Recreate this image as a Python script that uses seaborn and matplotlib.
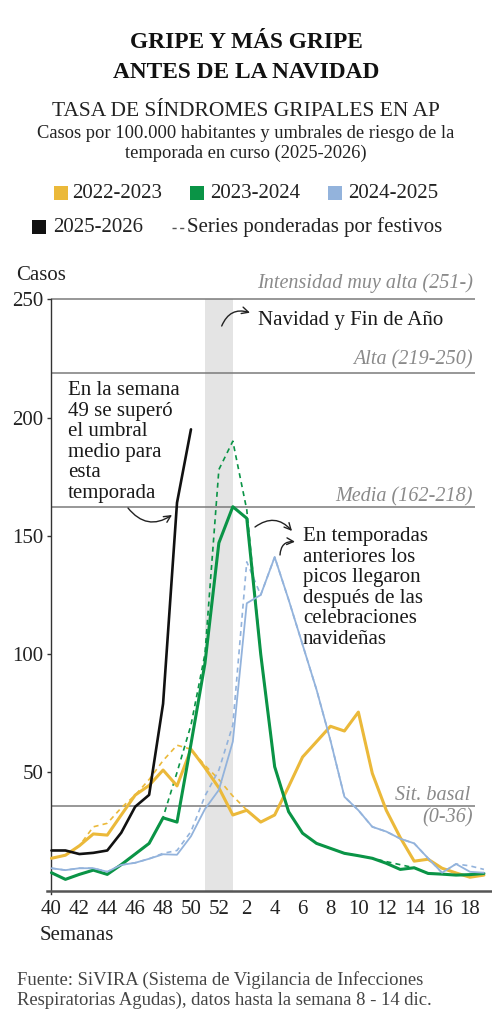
import pandas as pd
import seaborn as sns
import matplotlib.pyplot as plt
from matplotlib.patches import Rectangle
from matplotlib.lines import Line2D

# --- data (tasa por 100.000 hab., semanas epidemiologicas) ---
weeks = [40, 41, 42, 43, 44, 45, 46, 47, 48, 49, 50, 51, 52,
         1, 2, 3, 4, 5, 6, 7, 8, 9, 10, 11, 12, 13, 14, 15, 16, 17, 18, 19]
tick_weeks = [40, 42, 44, 46, 48, 50, 52, 2, 4, 6, 8, 10, 12, 14, 16, 18]

s2223 = [13.7, 15, 19, 24, 23.5, 32, 40.4, 44.5, 51, 44.3, 59.8, 52, 43.5, 32, 34, 29,
         32, 44, 56.5, 63, 69.5, 67.5, 75.5, 49.6, 34, 22.5, 12.5, 13.3, 9.5, 7.5, 5.7, 6.6]
s2223_pond = [13.7, 15, 19, 27, 28.5, 35, 40.4, 47, 55, 61.5, 59.8, 53, 47, 40, 34.1, 29,
              32, 44, 56.5, 63, 69.5, 67.5, 75.5, 49.6, 34, 22.5, 12.5, 13.3, 9.5, 7.5, 5.7, 6.6]

s2324 = [7.6, 4.8, 6.9, 8.7, 6.9, 11, 15.5, 20, 30.8, 29, 62, 96, 147, 162.3, 157.4, 100,
         52.4, 33.4, 24.3, 20, 17.9, 15.8, 14.8, 13.7, 11.6, 9, 9.7, 7.3, 7, 6.6, 6.8, 7.3]
s2324_pond = [7.6, 4.8, 6.9, 8.7, 6.9, 11, 15.5, 20, 31, 50, 70, 100, 178, 190, 161, 100,
              52.4, 33.4, 24.3, 20, 17.9, 15.8, 14.8, 13.7, 12.3, 11, 9.7, 7.3, 7, 6.6, 6.8, 7.3]

s2425 = [9.5, 8.7, 9.5, 9.5, 8, 10.9, 11.8, 13.5, 15.4, 15.2, 23, 34.5, 42.6, 63, 121.5, 125,
         141, 123, 104, 85, 63.5, 39.7, 34, 27, 25, 22, 20, 13.7, 7.6, 11.3, 8, 7.6]
s2425_pond = [9.5, 8.7, 9.5, 9.5, 8, 10.9, 11.8, 13.5, 15.8, 17, 25, 40, 51, 70, 139, 125,
              141, 123, 104, 85, 63.5, 39.7, 34, 27, 25, 22, 20, 13.7, 7.6, 11.3, 10.5, 9]

s2526 = [17, 17, 15.5, 16, 17, 24.5, 35.5, 40.5, 79, 164, 195]

seasons = ['2022-2023', '2023-2024', '2024-2025', '2025-2026']
colors = ['#EBB93A', '#0A9446', '#93B3DC', '#111111']
widths = [2.2, 2.2, 1.3, 1.9]

thresholds = [250, 219, 162, 36]
holiday_start, holiday_end = 51, 1

# long table for seaborn
pos_of = {w: i for i, w in enumerate(weeks)}
rows = []
for season, real, pond in [('2022-2023', s2223, s2223_pond),
                           ('2023-2024', s2324, s2324_pond),
                           ('2024-2025', s2425, s2425_pond),
                           ('2025-2026', s2526, None)]:
    for i, v in enumerate(real):
        rows.append(dict(pos=i, casos=v, season=season, kind='real'))
    if pond is not None:
        for i, v in enumerate(pond):
            rows.append(dict(pos=i, casos=v, season=season, kind='pond'))
df = pd.DataFrame(rows)

sns.set_theme(style='white')
plt.rcParams['font.family'] = ['Liberation Serif', 'DejaVu Serif']
plt.rcParams['text.color'] = '#1a1a1a'

W, H = 492, 1024
fig = plt.figure(figsize=(W / 100, H / 100), dpi=100)
fig.patch.set_facecolor('white')


def fx(px):
    return px / W


def fy(py):
    return 1 - py / H


ax = fig.add_axes([0.0947, 0.1267, 0.9053, 0.5811])
ax.set_xlim(-0.35, 31.58)
ax.set_ylim(-1.5, 250)

# holiday band
ax.fill_between([pos_of[holiday_start], pos_of[holiday_end]], 0, 250,
                color='#E4E4E4', lw=0, zorder=0)

# thresholds
ax.hlines(thresholds, 0, 30.36, color='#7a7a7a', lw=1.1, zorder=1, clip_on=False)

# weighted series (dashed)
for season, color in zip(seasons[:3], colors[:3]):
    sub = df[(df.season == season) & (df.kind == 'pond')]
    sns.lineplot(data=sub, x='pos', y='casos', ax=ax, color=color, lw=1.2,
                 linestyle=(0, (3, 2.5)), zorder=2)

# real series
order = [2, 0, 1, 3]
for k in order:
    sub = df[(df.season == seasons[k]) & (df.kind == 'real')]
    sns.lineplot(data=sub, x='pos', y='casos', ax=ax, color=colors[k],
                 lw=widths[k], zorder=3 + k)

ax.set_xlabel('')
ax.set_ylabel('')
for s in ['top', 'right']:
    ax.spines[s].set_visible(False)
ax.spines['left'].set_position(('data', 0))
ax.spines['bottom'].set_position(('data', 0))
ax.spines['left'].set_color('#333333')
ax.spines['left'].set_linewidth(1.0)
ax.spines['bottom'].set_color('#555555')
ax.spines['bottom'].set_linewidth(1.8)

ax.set_yticks([50, 100, 150, 200, 250])
ax.set_yticklabels(['50', '100', '150', '200', '250'])
ax.set_xticks([pos_of[w] for w in tick_weeks])
ax.set_xticklabels([str(w) for w in tick_weeks])
ax.tick_params(axis='y', length=3, width=1, color='#333333', pad=3,
               labelsize=15, labelcolor='#222222', left=True)
ax.tick_params(axis='x', length=0, pad=7, labelsize=15, labelcolor='#222222')

# threshold labels
lab_kw = dict(ha='right', va='center', style='italic', color='#8a8a8a', fontsize=14.5)
ax.text(30.2, 256.8, 'Intensidad muy alta (251-)', **lab_kw)
ax.text(30.2, 224.3, 'Alta (219-250)', **lab_kw)
ax.text(30.2, 166.4, 'Media (162-218)', **lab_kw)
ax.text(30.0, 40.4, 'Sit. basal', **lab_kw)
ax.text(30.2, 31.0, '(0-36)', **lab_kw)

# annotations
arrow = dict(arrowstyle='->', color='#222222', lw=1.0, shrinkA=0, shrinkB=0)
fig.text(fx(258), fy(321), 'Navidad y Fin de Año', ha='left', va='center', fontsize=15)
ax.annotate('', xy=(250, H - 312.7), xytext=(221.7, H - 326), xycoords='figure pixels',
            textcoords='figure pixels',
            arrowprops=dict(arrow, connectionstyle='arc3,rad=-0.45'))

fig.text(fx(68), fy(442), 'En la semana\n49 se superó\nel umbral\nmedio para\nesta\ntemporada',
         ha='left', va='center', fontsize=15, linespacing=1.11)
ax.annotate('', xy=(172, H - 515), xytext=(128, H - 508), xycoords='figure pixels',
            textcoords='figure pixels',
            arrowprops=dict(arrow, connectionstyle='arc3,rad=0.45'))

fig.text(fx(303), fy(588), 'En temporadas\nanteriores los\npicos llegaron\ndespués de las\n'
         'celebraciones\nnavideñas', ha='left', va='center', fontsize=15, linespacing=1.11)
ax.annotate('', xy=(292, H - 531), xytext=(255, H - 527), xycoords='figure pixels',
            textcoords='figure pixels',
            arrowprops=dict(arrow, connectionstyle='arc3,rad=-0.45'))
ax.annotate('', xy=(295, H - 541.7), xytext=(280, H - 555), xycoords='figure pixels',
            textcoords='figure pixels',
            arrowprops=dict(arrow, connectionstyle='arc3,rad=-0.5'))

# titles
fig.text(0.5, fy(43), 'GRIPE Y MÁS GRIPE', ha='center', va='center',
         fontsize=16.8, weight='bold', color='#111111')
fig.text(0.5, fy(73), 'ANTES DE LA NAVIDAD', ha='center', va='center',
         fontsize=16.8, weight='bold', color='#111111')
fig.text(0.5, fy(112), 'TASA DE SÍNDROMES GRIPALES EN AP', ha='center', va='center',
         fontsize=15.5, color='#222222')
fig.text(0.5, fy(133), 'Casos por 100.000 habitantes y umbrales de riesgo de la',
         ha='center', va='center', fontsize=13.3, color='#222222')
fig.text(0.5, fy(153), 'temporada en curso (2025-2026)',
         ha='center', va='center', fontsize=13.3, color='#222222')

# legend
sq_w, sq_h = 14 / W, 14 / H
leg = [(54, 72, 193, 0), (190, 210, 193, 1), (328, 348, 193, 2), (32, 53, 227, 3)]
for sx, tx, ty, k in leg:
    fig.patches.append(Rectangle((fx(sx), fy(ty) - sq_h / 2), sq_w, sq_h,
                                 transform=fig.transFigure, color=colors[k], lw=0))
    fig.text(fx(tx), fy(ty), seasons[k], ha='left', va='center', fontsize=15, color='#222222')
fig.add_artist(Line2D([fx(172), fx(185)], [fy(228), fy(228)], transform=fig.transFigure,
                      color='#555555', lw=1.0, linestyle=(0, (3, 2.5))))
fig.text(fx(187), fy(227), 'Series ponderadas por festivos', ha='left', va='center',
         fontsize=15, color='#222222')

# axis titles
fig.text(fx(16), fy(275), 'Casos', ha='left', va='center', fontsize=15, color='#222222')
fig.text(fx(40), fy(936), 'Semanas', ha='left', va='center', fontsize=15, color='#222222')

# source
fig.text(fx(17), fy(980), 'Fuente: SiVIRA (Sistema de Vigilancia de Infecciones',
         ha='left', va='center', fontsize=13.4, color='#444444')
fig.text(fx(17), fy(1000), 'Respiratorias Agudas), datos hasta la semana 8 - 14 dic.',
         ha='left', va='center', fontsize=13.4, color='#444444')

fig.savefig('out.png', dpi=100)
